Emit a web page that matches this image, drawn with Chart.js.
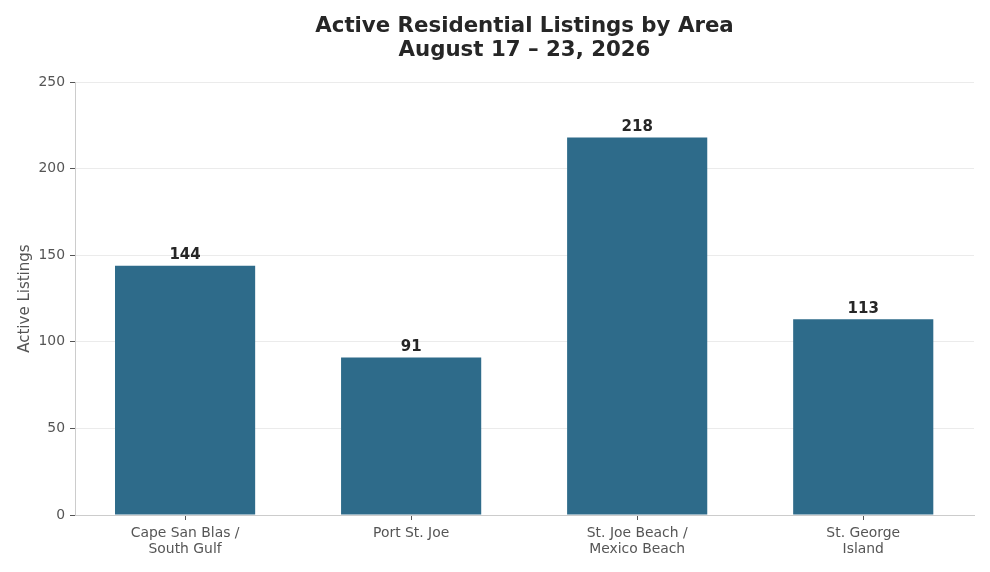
<!DOCTYPE html>
<html><head><meta charset="utf-8">
<script src="https://cdn.jsdelivr.net/npm/chart.js@4/dist/chart.umd.min.js"></script>
<style>html,body{margin:0;padding:0;background:#fff}#wrap{width:990px;height:572px}</style>
</head><body><div id="wrap"><canvas id="c"></canvas></div>
<script>
const categories = [["Cape San Blas /","South Gulf"],"Port St. Joe",["St. Joe Beach /","Mexico Beach"],["St. George","Island"]];
const listings = [144, 91, 218, 113];
const yTicks = [0, 50, 100, 150, 200, 250];
const titleLines = ["Active Residential Listings by Area", "August 17 – 23, 2026"];
const FONT = "'DejaVu Sans', sans-serif";

const labelPlugin = {
  id: 'barLabels',
  afterDatasetsDraw(chart) {
    const ctx = chart.ctx;
    const meta = chart.getDatasetMeta(0);
    ctx.save();
    ctx.font = "bold 15px " + FONT;
    ctx.fillStyle = "#262626";
    ctx.textAlign = "center";
    ctx.textBaseline = "bottom";
    meta.data.forEach((bar, i) => {
      ctx.fillText(String(listings[i]), bar.x, bar.y - 3);
    });
    ctx.restore();
  }
};

new Chart(document.getElementById('c'), {
  type: 'bar',
  data: { datasets: [{ data: listings.map((v, i) => ({ x: i, y: v })), backgroundColor: '#2e6b8a', borderWidth: 0, categoryPercentage: 1, barPercentage: 0.62 }] },
  options: {
    responsive: true, maintainAspectRatio: false, animation: false,
    layout: { padding: { left: 16, right: 16, top: 0, bottom: 0 } },
    plugins: {
      legend: { display: false },
      tooltip: { enabled: false },
      title: { display: true, text: titleLines, fullSize: false, color: '#262626',
        font: { family: FONT, size: 21.3, weight: 'bold', lineHeight: 1.13 }, padding: { top: 14, bottom: 20 } }
    },
    scales: {
      x: {
        type: 'linear', min: -0.487, max: 3.49, offset: false,
        afterBuildTicks(s) { s.ticks = categories.map((c, i) => ({ value: i })); },
        grid: { offset: false, drawOnChartArea: false, color: '#555555', tickLength: 5 },
        border: { color: '#cccccc' },
        ticks: { color: '#555555', font: { family: FONT, size: 13.9, lineHeight: 1.1 }, padding: 6, maxRotation: 0, autoSkip: false,
          callback: (v) => categories[v] },
        afterFit(s) { s.height = 57; }
      },
      y: {
        min: 0, max: 250,
        afterBuildTicks(s) { s.ticks = yTicks.map(v => ({ value: v })); },
        grid: { color: '#ebebeb', tickLength: 5, tickColor: '#555555' },
        border: { color: '#cccccc' },
        ticks: { color: '#555555', font: { family: FONT, size: 13.9 }, padding: 5 },
        title: { display: true, text: 'Active Listings', color: '#555555', font: { family: FONT, size: 15 }, padding: { top: 0, bottom: 6 } },
        afterFit(s) { s.width = 59; }
      }
    }
  },
  plugins: [labelPlugin]
});
</script></body></html>
